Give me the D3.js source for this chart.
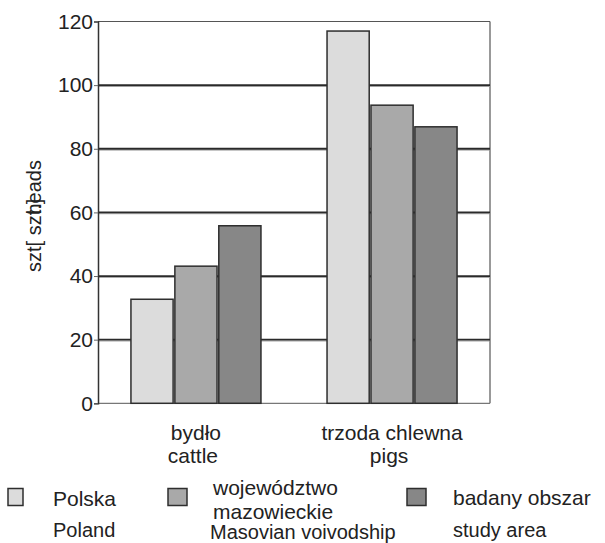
<!DOCTYPE html>
<html>
<head>
<meta charset="utf-8">
<script src="https://cdn.jsdelivr.net/npm/d3@7"></script>
<style>
  html, body { margin: 0; padding: 0; background: #fff; }
  svg { display: block; }
  text { font-family: "Liberation Sans", Arial, sans-serif; fill: #222; }
</style>
</head>
<body>
<svg id="chart" width="605" height="543"></svg>
<script>
const categories = ["bydło", "trzoda chlewna"];
const categoriesEn = ["cattle", "pigs"];
const seriesNames = ["Polska", "województwo mazowieckie", "badany obszar"];
const seriesNamesEn = ["Poland", "Masovian voivodship", "study area"];
const polska = [32.7, 117.0];
const mazowieckie = [43.1, 93.7];
const badany = [55.8, 86.9];
const yTicks = [0, 20, 40, 60, 80, 100, 120];
const colors = ["#dcdcdc", "#a9a9a9", "#878787"];

const seriesValues = [polska, mazowieckie, badany];

const svg = d3.select("#chart");
const mLeft = 98, mRight = 490, mTop = 21.5, mBottom = 403.3;

const y = d3.scaleLinear().domain([0, 120]).range([mBottom, mTop]);
const x0 = d3.scaleBand().domain(categories).range([mLeft, mRight])
  .paddingInner(0.337).paddingOuter(0.168);
const x1 = d3.scaleBand().domain(d3.range(seriesNames.length))
  .range([0, x0.bandwidth()]).paddingInner(0.04).paddingOuter(0);

// frame: top and right border
svg.append("line").attr("x1", mLeft).attr("x2", mRight).attr("y1", y(120)).attr("y2", y(120))
  .attr("stroke", "#555").attr("stroke-width", 1.2);
svg.append("line").attr("x1", mRight).attr("x2", mRight).attr("y1", y(120)).attr("y2", y(0))
  .attr("stroke", "#555").attr("stroke-width", 1.2);
svg.append("line").attr("x1", mLeft).attr("x2", mRight).attr("y1", y(0)).attr("y2", y(0))
  .attr("stroke", "#777").attr("stroke-width", 1.2);

// gridlines
const grid = yTicks.filter(d => d > 0 && d < 120);
svg.append("g").selectAll("line").data(grid).join("line")
  .attr("x1", mLeft).attr("x2", mRight)
  .attr("y1", d => y(d) + 1.3).attr("y2", d => y(d) + 1.3)
  .attr("stroke", "#9a9a9a").attr("stroke-width", 1);
svg.append("g").selectAll("line").data(grid).join("line")
  .attr("x1", mLeft).attr("x2", mRight)
  .attr("y1", d => y(d)).attr("y2", d => y(d))
  .attr("stroke", "#2a2a2a").attr("stroke-width", 1.8);

// bars
const groups = svg.append("g").selectAll("g").data(categories).join("g")
  .attr("transform", d => `translate(${x0(d)},0)`);
groups.selectAll("rect").data((c, ci) => seriesValues.map((s, si) => ({ si, v: s[ci] })))
  .join("rect")
  .attr("x", d => x1(d.si))
  .attr("width", x1.bandwidth())
  .attr("y", d => y(d.v))
  .attr("height", d => y(0) - y(d.v))
  .attr("fill", d => colors[d.si])
  .attr("stroke", "#2e2e2e").attr("stroke-width", 1.5);

// y axis
const yAxis = d3.axisLeft(y).tickValues(yTicks).tickSize(4).tickPadding(1);
const ga = svg.append("g").attr("transform", `translate(${mLeft},0)`).call(yAxis);
ga.select(".domain").attr("stroke", "#333").attr("stroke-width", 1.5);
ga.selectAll(".tick line").attr("stroke", "#666");
ga.selectAll(".tick text").attr("font-size", 21).attr("fill", "#222")
  .style("font-family", "'Liberation Sans', Arial, sans-serif");

// y axis label (two overlapping texts as in original)
svg.append("text").attr("transform", "translate(41,272) rotate(-90)")
  .attr("font-size", 20).attr("text-anchor", "start").text("szt[ szt.]");
svg.append("text").attr("transform", "translate(41,160) rotate(-90)")
  .attr("font-size", 20).attr("text-anchor", "end").text("heads");

// x category labels
const cx = c => x0(c) + x0.bandwidth() / 2;
svg.append("g").selectAll("text").data(categories).join("text")
  .attr("x", d => cx(d)).attr("y", 440).attr("text-anchor", "middle")
  .attr("font-size", 21).text(d => d);
svg.append("g").selectAll("text").data(categoriesEn).join("text")
  .attr("x", (d, i) => cx(categories[i]) - 3).attr("y", 463).attr("text-anchor", "middle")
  .attr("font-size", 21).text(d => d);

// legend
const legend = [
  { sx: 8, sw: 15, tx: 53, lines: [["Polska", 506]], en: 537 },
  { sx: 168, sw: 19, tx: 213, lines: [["województwo", 495], ["mazowieckie", 519]], en: 539 },
  { sx: 407, sw: 19, tx: 453, lines: [["badany obszar", 505]], en: 537 }
];
legend.forEach((l, i) => {
  svg.append("rect").attr("x", l.sx).attr("y", 488.5).attr("width", l.sw).attr("height", 17)
    .attr("fill", colors[i]).attr("stroke", "#2e2e2e").attr("stroke-width", 1.5);
  l.lines.forEach(([t, yy]) => {
    svg.append("text").attr("x", l.tx).attr("y", yy).attr("font-size", 21).text(t);
  });
  svg.append("text").attr("x", i === 1 ? 210 : l.tx).attr("y", l.en).attr("font-size", 20)
    .text(seriesNamesEn[i]);
});
</script>
</body>
</html>
